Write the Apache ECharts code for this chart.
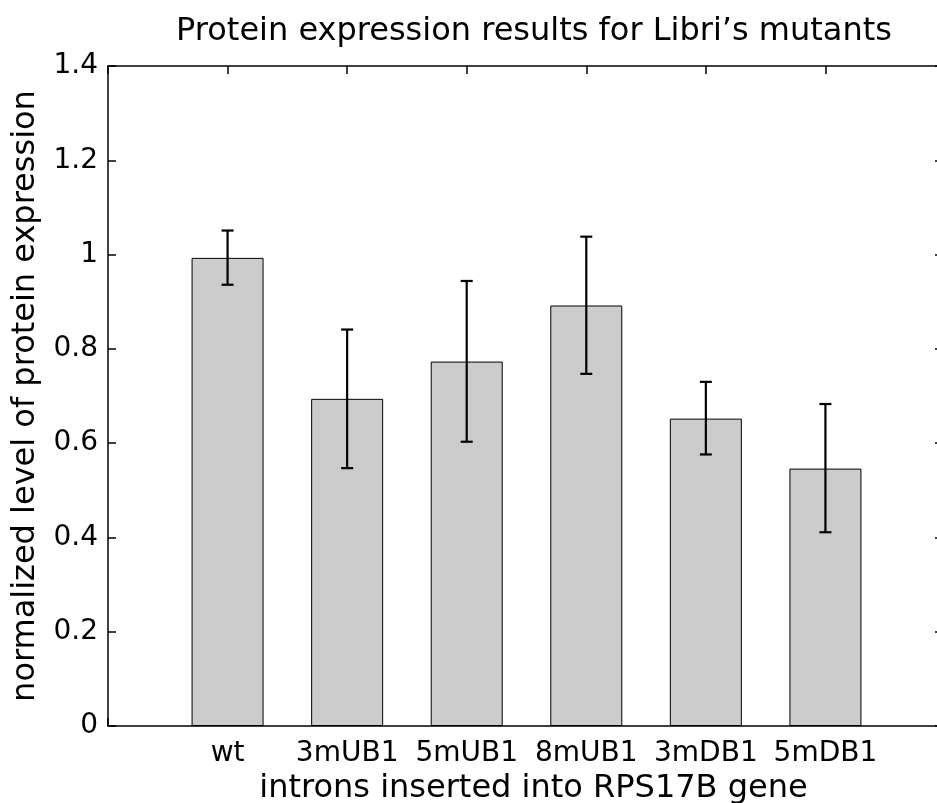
<!DOCTYPE html>
<html>
<head>
<meta charset="utf-8">
<script src="https://cdn.jsdelivr.net/npm/echarts@6/dist/echarts.min.js"></script>
<style>
html,body{margin:0;padding:0;background:#fff;}
#chart{width:937px;height:803px;}
</style>
</head>
<body>
<div id="chart"></div>
<script>
const categories = ['wt', '3mUB1', '5mUB1', '8mUB1', '3mDB1', '5mDB1'];
const means = [0.993, 0.694, 0.773, 0.892, 0.652, 0.546];
const errLow = [0.936, 0.547, 0.603, 0.747, 0.576, 0.411];
const errHigh = [1.051, 0.841, 0.944, 1.038, 0.730, 0.683];
const titleText = 'Protein expression results for Libri\u2019s mutants';
const xName = 'introns inserted into RPS17B gene';
const yName = 'normalized level of protein expression';

const FONT = 'DejaVu Sans';
const barData = means.map((v, i) => [i + 1, v]);
const errData = means.map((v, i) => [i + 1, errLow[i], errHigh[i]]);

const chart = echarts.init(document.getElementById('chart'), null, {renderer: 'canvas'});
const axisLine = {show: true, onZero: false, lineStyle: {color: '#000', width: 1.5}};
const tick = {show: true, inside: true, length: 8, lineStyle: {color: '#000', width: 1.5}};
chart.setOption({
  animation: false,
  backgroundColor: '#fff',
  title: {
    text: titleText,
    left: 529,
    textAlign: 'center',
    top: 11,
    textStyle: {fontFamily: FONT, fontSize: 32, fontWeight: 'normal', color: '#000'}
  },
  grid: {left: 108, right: -8, top: 66, bottom: 77, containLabel: false, outerBoundsMode: 'none'},
  xAxis: [{
    type: 'value', position: 'bottom', min: 0, max: 7, interval: 1,
    axisLine: axisLine,
    axisTick: tick,
    splitLine: {show: false},
    axisLabel: {
      margin: 14, color: '#000', fontFamily: FONT, fontSize: 28,
      formatter: v => (v >= 1 && v <= categories.length) ? categories[v - 1] : ''
    },
    name: xName, nameLocation: 'middle', nameGap: 44,
    nameTextStyle: {fontFamily: FONT, fontSize: 32, color: '#000', padding: [0, 0, 0, 14]}
  }, {
    type: 'value', position: 'top', min: 0, max: 7, interval: 1,
    axisLine: axisLine,
    axisTick: tick,
    splitLine: {show: false},
    axisLabel: {show: false}
  }],
  yAxis: [{
    type: 'value', position: 'left', min: 0, max: 1.4, interval: 0.2,
    axisLine: axisLine,
    axisTick: tick,
    splitLine: {show: false},
    axisLabel: {margin: 10, color: '#000', fontFamily: FONT, fontSize: 28},
    name: yName, nameLocation: 'middle', nameGap: 66, nameRotate: 90,
    nameTextStyle: {fontFamily: FONT, fontSize: 32, color: '#000'}
  }, {
    type: 'value', position: 'right', min: 0, max: 1.4, interval: 0.2,
    axisLine: axisLine,
    axisTick: {show: true, inside: true, length: 10, lineStyle: {color: '#000', width: 1.5}},
    splitLine: {show: false},
    axisLabel: {show: false}
  }],
  series: [{
    type: 'bar',
    xAxisIndex: 0, yAxisIndex: 0,
    data: barData,
    barWidth: 72,
    itemStyle: {color: '#cccccc', borderColor: '#000', borderWidth: 1}
  }, {
    type: 'custom',
    xAxisIndex: 0, yAxisIndex: 0,
    data: errData,
    z: 5,
    renderItem: function (params, api) {
      const x = api.value(0);
      const lo = api.coord([x, api.value(1)]);
      const hi = api.coord([x, api.value(2)]);
      const cap = 6;
      const st = {stroke: '#000', lineWidth: 2.2};
      return {
        type: 'group',
        children: [
          {type: 'line', shape: {x1: lo[0], y1: lo[1], x2: hi[0], y2: hi[1]}, style: st},
          {type: 'line', shape: {x1: lo[0] - cap, y1: lo[1], x2: lo[0] + cap, y2: lo[1]}, style: st},
          {type: 'line', shape: {x1: hi[0] - cap, y1: hi[1], x2: hi[0] + cap, y2: hi[1]}, style: st}
        ]
      };
    }
  }]
});
</script>
</body>
</html>
